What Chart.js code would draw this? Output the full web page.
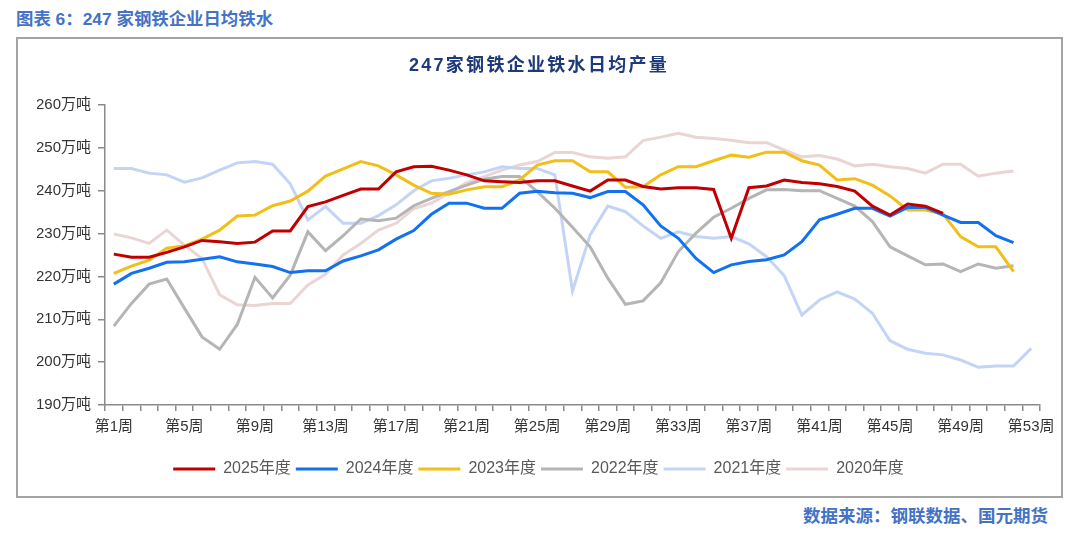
<!DOCTYPE html>
<html>
<head>
<meta charset="utf-8">
<script src="https://cdn.jsdelivr.net/npm/chart.js@4/dist/chart.umd.min.js"></script>
<style>
  html, body { margin: 0; padding: 0; background: #fff; }
  body { width: 1080px; height: 538px; position: relative; overflow: hidden; font-family: "Liberation Sans", "Noto Sans CJK SC", sans-serif; }
  #header { position: absolute; left: 16px; top: 9px; font-size: 17.4px; font-weight: bold; color: #4472C4; line-height: 21px; white-space: pre; }
  #box { position: absolute; left: 16px; top: 37px; width: 1043px; height: 457px; border: 2px solid #A3A3A3; }
  #source { position: absolute; right: 32px; top: 506px; font-size: 17.5px; font-weight: bold; color: #4472C4; line-height: 21px; }
  #chart { position: absolute; left: 0; top: 0; }
</style>
</head>
<body>
<div id="header">图表 6：247 家钢铁企业日均铁水</div>
<div id="box"></div>
<div id="source">数据来源：钢联数据、国元期货</div>
<canvas id="chart" width="1080" height="538"></canvas>
<script>
const chartTitle = '247家钢铁企业铁水日均产量';

const weeks = [
    '第1周', '第2周', '第3周', '第4周', '第5周', '第6周', '第7周', '第8周', '第9周', '第10周',
    '第11周', '第12周', '第13周', '第14周', '第15周', '第16周', '第17周', '第18周', '第19周', '第20周',
    '第21周', '第22周', '第23周', '第24周', '第25周', '第26周', '第27周', '第28周', '第29周', '第30周',
    '第31周', '第32周', '第33周', '第34周', '第35周', '第36周', '第37周', '第38周', '第39周', '第40周',
    '第41周', '第42周', '第43周', '第44周', '第45周', '第46周', '第47周', '第48周', '第49周', '第50周',
    '第51周', '第52周', '第53周'
];

const yearLabels = ['2025年度', '2024年度', '2023年度', '2022年度', '2021年度', '2020年度'];

const y2025 = [225.2, 224.5, 224.5, 225.6, 226.9, 228.4, 228.1, 227.7, 228.0, 230.6,
    230.6, 236.3, 237.4, 238.9, 240.4, 240.4, 244.4, 245.6, 245.7, 244.8,
    243.7, 242.3, 242.1, 241.9, 242.3, 242.3, 241.1, 239.9, 242.5, 242.5,
    241.0, 240.4, 240.7, 240.7, 240.3, 228.9, 240.7, 241.1, 242.5, 241.9,
    241.6, 241.0, 239.9, 236.4, 234.3, 236.9, 236.4, 234.7];

const y2024 = [218.2, 220.7, 221.9, 223.3, 223.4, 224.0, 224.6, 223.4, 222.9, 222.3,
    220.9, 221.3, 221.3, 223.6, 224.8, 226.2, 228.7, 230.7, 234.5, 237.1,
    237.1, 235.9, 235.9, 239.4, 239.9, 239.5, 239.4, 238.4, 239.8, 239.8,
    236.7, 231.8, 228.9, 224.2, 220.9, 222.7, 223.5, 223.9, 225.0, 228.1,
    233.2, 234.5, 235.9, 235.9, 234.1, 236.1, 236.1, 234.3, 232.6, 232.6,
    229.5, 227.9];

const y2023 = [220.7, 222.4, 223.8, 226.6, 227.1, 228.7, 230.8, 234.1, 234.3, 236.5,
    237.6, 239.9, 243.4, 245.1, 246.8, 245.8, 243.7, 241.3, 239.4, 239.2,
    240.2, 240.9, 240.9, 242.5, 246.0, 247.0, 247.0, 244.4, 244.4, 240.8,
    240.9, 243.7, 245.6, 245.6, 247.0, 248.3, 247.8, 249.0, 249.0, 247.0,
    246.0, 242.5, 242.8, 241.3, 238.8, 235.5, 235.5, 234.6, 229.3, 226.9,
    226.9, 221.1];

const y2022 = [208.4, 213.7, 218.2, 219.4, 212.6, 205.9, 203.0, 208.8, 219.8, 215.0,
    220.3, 230.4, 226.0, 229.5, 233.4, 233.0, 233.6, 236.5, 238.2, 239.8,
    241.3, 242.7, 243.3, 243.3, 239.8, 235.9, 231.5, 226.9, 219.6, 213.5,
    214.3, 218.5, 225.8, 230.1, 233.8, 235.9, 238.2, 240.2, 240.3, 240.0,
    240.0, 238.2, 236.4, 232.8, 226.9, 224.8, 222.7, 222.9, 221.1, 222.9,
    221.9, 222.5];

const y2021 = [245.2, 245.2, 244.1, 243.7, 242.0, 243.0, 244.8, 246.5, 246.8, 246.2,
    241.6, 233.2, 236.3, 232.4, 232.4, 234.2, 236.7, 240.0, 242.3, 242.9,
    243.7, 244.4, 245.6, 245.2, 245.2, 243.7, 216.6, 229.7, 236.4, 235.1,
    231.8, 228.9, 230.4, 229.3, 228.9, 229.3, 227.6, 224.6, 220.2, 211.0,
    214.5, 216.4, 214.7, 211.4, 205.0, 203.0, 202.1, 201.7, 200.5, 198.8,
    199.1, 199.1, 203.2];

const y2020 = [229.9, 229.0, 227.7, 230.8, 227.3, 224.2, 215.7, 213.4, 213.2, 213.7,
    213.7, 218.0, 220.5, 225.0, 227.7, 230.8, 232.4, 235.8, 237.1, 239.4,
    241.9, 243.3, 244.8, 246.0, 246.8, 248.9, 248.9, 247.9, 247.6, 247.9,
    251.7, 252.5, 253.4, 252.5, 252.2, 251.8, 251.2, 251.2, 249.5, 247.9,
    248.2, 247.4, 245.8, 246.2, 245.6, 245.2, 244.1, 246.2, 246.2, 243.4,
    244.1, 244.6];

const yTicks = [190, 200, 210, 220, 230, 240, 250, 260];

const seriesValues = [y2025, y2024, y2023, y2022, y2021, y2020];
const seriesColors = ['#C00000', '#1271F0', '#F2BE18', '#B5B5B5', '#C4D4F6', '#EAD5D5'];

const axisColor = '#8A8A8A';
const textColor = '#333333';

Chart.defaults.font.family = '"Liberation Sans", "Noto Sans CJK SC", sans-serif';

// centred chart title, drawn with a little letter spacing like the original
const titlePlugin = {
    id: 'spacedTitle',
    afterDraw(chart) {
        const ctx = chart.ctx;
        ctx.save();
        ctx.font = 'bold 18px "Liberation Sans", "Noto Sans CJK SC", sans-serif';
        ctx.fillStyle = '#1E3A7B';
        ctx.textAlign = 'center';
        ctx.textBaseline = 'middle';
        if ('letterSpacing' in ctx) {
            ctx.letterSpacing = '2.3px';
        }
        ctx.fillText(chartTitle, 539, 66);
        ctx.restore();
    }
};

new Chart(document.getElementById('chart').getContext('2d'), {
    type: 'line',
    data: {
        labels: weeks,
        datasets: seriesValues.map((values, i) => ({
            label: yearLabels[i],
            data: values,
            borderColor: seriesColors[i],
            backgroundColor: seriesColors[i],
            borderWidth: 3,
            pointRadius: 0,
            pointHoverRadius: 0,
            tension: 0,
            fill: false
        }))
    },
    options: {
        responsive: false,
        animation: false,
        events: [],
        layout: {
            padding: {left: 37, right: 40, top: 105, bottom: 51}
        },
        scales: {
            x: {
                type: 'category',
                offset: true,
                grid: {
                    offset: true,
                    drawOnChartArea: false,
                    drawTicks: true,
                    tickLength: 6,
                    color: axisColor,
                    lineWidth: 1.5
                },
                border: {color: axisColor, width: 1.5},
                ticks: {
                    autoSkip: false,
                    maxRotation: 0,
                    minRotation: 0,
                    padding: 7,
                    color: textColor,
                    font: {size: 15},
                    callback(value, index) {
                        return index % 4 === 0 ? this.getLabelForValue(value) : '';
                    }
                },
                afterFit(scale) {
                    scale.height = 51;
                }
            },
            y: {
                min: yTicks[0],
                max: yTicks[yTicks.length - 1],
                afterBuildTicks(scale) {
                    scale.ticks = yTicks.map(v => ({value: v}));
                },
                grid: {
                    drawOnChartArea: false,
                    drawTicks: true,
                    tickLength: 7,
                    color: axisColor,
                    lineWidth: 1.5
                },
                border: {color: axisColor, width: 1.5},
                ticks: {
                    padding: 7,
                    color: textColor,
                    font: {size: 15},
                    callback: v => v + '万吨'
                },
                afterFit(scale) {
                    scale.width = 68;
                }
            }
        },
        plugins: {
            title: {display: false},
            tooltip: {enabled: false},
            legend: {
                display: true,
                position: 'bottom',
                labels: {
                    boxWidth: 42,
                    boxHeight: 3,
                    padding: 5,
                    color: '#595959',
                    font: {size: 16},
                    generateLabels(chart) {
                        return Chart.defaults.plugins.legend.labels.generateLabels(chart)
                            .map(item => ({...item, lineWidth: 0, fillStyle: item.strokeStyle}));
                    }
                }
            }
        }
    },
    plugins: [titlePlugin]
});
</script>
</body>
</html>
